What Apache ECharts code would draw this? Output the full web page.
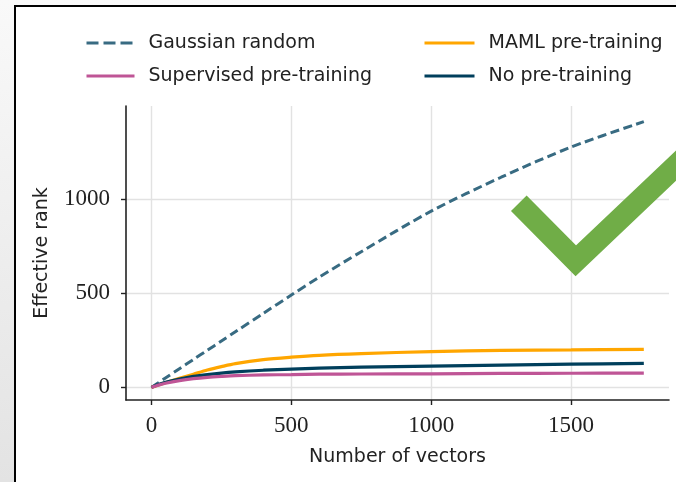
<!DOCTYPE html>
<html>
<head>
<meta charset="utf-8">
<script src="https://cdn.jsdelivr.net/npm/echarts@6/dist/echarts.min.js"></script>
<style>
  body { margin: 0; }
  #wrap { position: relative; width: 676px; height: 482px; background: linear-gradient(to bottom, #f9f9f9, #e3e3e3); }
  #panel { position: absolute; left: 14px; top: 5px; right: 0; bottom: 0; background: #fff; border-left: 2px solid #000; border-top: 2px solid #000; }
  #chart { position: absolute; left: 0; top: 0; width: 676px; height: 482px; }
</style>
</head>
<body>
<div id="wrap">
  <div id="panel"></div>
  <div id="chart"></div>
</div>
<script>
// values
const vectors = [0, 25, 50, 100, 150, 200, 250, 300, 400, 500, 600, 750, 1000, 1250, 1500, 1760];
const gaussianRandom = [0, 25, 50, 99, 148, 197, 246, 295, 393, 490, 585, 720, 935, 1115, 1275, 1410];
const supervisedPre = [0, 12, 22, 36, 46, 53, 58, 62, 66, 68, 70, 71, 72, 74, 75, 76];
const mamlPre = [0, 13, 25, 48, 70, 92, 110, 126, 147, 160, 170, 179, 190, 196, 199, 202];
const noPre = [0, 15, 27, 44, 58, 68, 76, 82, 91, 97, 102, 107, 113, 118, 123, 127];

const xTicks = [0, 500, 1000, 1500];
const yTicks = [0, 500, 1000];

const sansFont = '"DejaVu Sans", sans-serif';
const serifFont = '"Liberation Serif", serif';
const textColor = '#222';

function pairs(ys) {
  return vectors.map(function(x, i) { return [x, ys[i]]; });
}

function lineSeries(name, ys, color, dashed, z) {
  return {
    name: name,
    type: 'line',
    data: pairs(ys),
    smooth: 0.3,
    symbol: 'none',
    z: z,
    lineStyle: { color: color, width: dashed ? 3 : 3.2, type: dashed ? [9, 4.5] : 'solid' },
    itemStyle: { color: color }
  };
}

const legendText = { fontFamily: sansFont, fontSize: 19, color: textColor, lineHeight: 20, padding: [0, 0, 0, 9] };
const plainNumber = function(v) { return String(v); };

const chart = echarts.init(document.getElementById('chart'));
const option = {
  animation: false,
  grid: { left: 126, top: 106, right: 7, bottom: 82 },
  legend: [
    {
      data: [
        { name: 'Gaussian random', lineStyle: { type: [12, 5] } },
        'Supervised pre-training'
      ],
      orient: 'vertical', left: 80, top: 28, itemWidth: 48, itemHeight: 12, itemGap: 13,
      itemStyle: { opacity: 0 },
      lineStyle: { width: 3 },
      textStyle: legendText
    },
    {
      data: ['MAML pre-training', 'No pre-training'],
      orient: 'vertical', left: 418, top: 28, itemWidth: 50, itemHeight: 12, itemGap: 13,
      itemStyle: { opacity: 0 },
      lineStyle: { width: 3 },
      textStyle: legendText
    }
  ],
  xAxis: {
    type: 'value',
    min: -91, max: 1850,
    name: 'Number of vectors',
    nameLocation: 'middle',
    nameGap: 48,
    nameTextStyle: { fontFamily: sansFont, fontSize: 19, color: textColor },
    axisLine: { onZero: false, lineStyle: { color: '#222', width: 1.6 } },
    axisTick: { customValues: xTicks, length: 5, lineStyle: { color: '#222', width: 1.4 } },
    axisLabel: { customValues: xTicks, formatter: plainNumber, margin: 14, fontFamily: serifFont, fontSize: 23, color: textColor },
    splitLine: { show: true, lineStyle: { color: '#e2e2e2', width: 1.4 } }
  },
  yAxis: {
    type: 'value',
    min: -67, max: 1493,
    name: 'Effective rank',
    nameLocation: 'middle',
    nameRotate: 90,
    nameGap: 74,
    nameTextStyle: { fontFamily: sansFont, fontSize: 19, color: textColor },
    axisLine: { show: true, onZero: false, lineStyle: { color: '#222', width: 1.6 } },
    axisTick: { show: true, customValues: yTicks, length: 5, lineStyle: { color: '#222', width: 1.4 } },
    axisLabel: { customValues: yTicks, formatter: plainNumber, margin: 16, fontFamily: serifFont, fontSize: 23, color: textColor },
    splitLine: { show: true, lineStyle: { color: '#e2e2e2', width: 1.4 } }
  },
  series: [
    lineSeries('Gaussian random', gaussianRandom, '#386b82', true, 2),
    lineSeries('MAML pre-training', mamlPre, '#ffa600', false, 3),
    lineSeries('No pre-training', noPre, '#003f5c', false, 4),
    lineSeries('Supervised pre-training', supervisedPre, '#bf5596', false, 5)
  ],
  graphic: [
    {
      // green check mark laid over the plot
      type: 'polyline',
      z: 100,
      shape: { points: [[518.8, 203.3], [575.8, 260.8], [700, 142.8]] },
      style: { stroke: '#70ad47', lineWidth: 22, lineJoin: 'miter', lineCap: 'butt', fill: null }
    }
  ]
};
chart.setOption(option);
</script>
</body>
</html>
